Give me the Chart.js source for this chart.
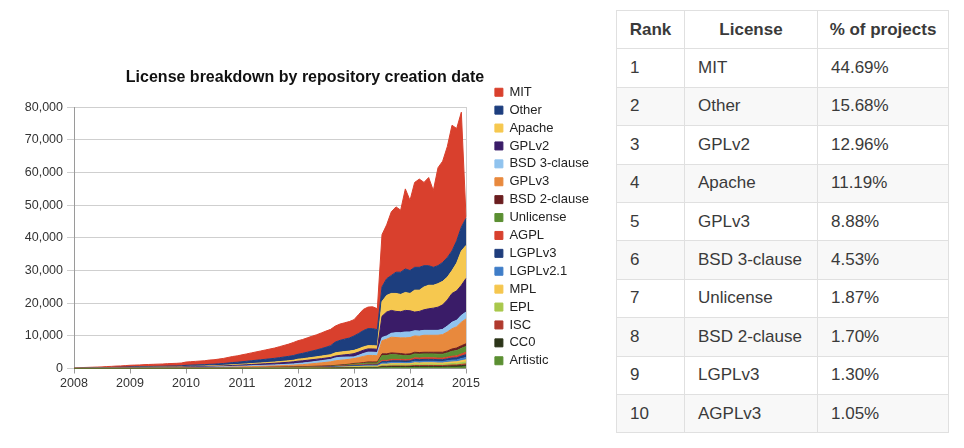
<!DOCTYPE html>
<html>
<head>
<meta charset="utf-8">
<script src="https://cdn.jsdelivr.net/npm/chart.js@4"></script>
<style>
  body { margin: 0; background: #fff; width: 964px; height: 448px; position: relative; overflow: hidden; }
  #chartBox { position: absolute; left: 15px; top: 55px; width: 580px; height: 343px; }
  #rankTable {
    position: absolute; left: 616px; top: 10px; width: 332px; table-layout: fixed;
    border-collapse: collapse; font-family: "Liberation Sans", Arial, sans-serif;
    font-size: 17px; color: #3a3a3a;
  }
  #rankTable th, #rankTable td { border: 1px solid #e0e0e0; padding: 0 13px; height: 37.4px; white-space: nowrap; }
  #rankTable th { font-weight: bold; text-align: center; padding: 0; }
  #rankTable td { text-align: left; }
  #rankTable tbody tr:nth-child(even) td { background: #f8f8f8; }
</style>
</head>
<body>
<div id="chartBox"><canvas id="licenseChart"></canvas></div>
<table id="rankTable">
  <colgroup><col style="width:68px"><col style="width:133px"><col style="width:131px"></colgroup>
  <thead><tr><th>Rank</th><th>License</th><th>% of projects</th></tr></thead>
  <tbody id="rankBody"></tbody>
</table>
<script>
// tick labels (one per January)
const years = ["2008", "2009", "2010", "2011", "2012", "2013", "2014", "2015"];
// monthly categories, 2008-01 .. 2015-01
const months = [];
years.forEach((y) => {
  for (let m = 1; m <= 12; m++) {
    if (y === "2015" && m > 1) break;
    months.push(`${y}-${String(m).padStart(2, "0")}`);
  }
});

// repos per month
const mit = [75,100,150,175,200,225,250,300,325,375,400,450,
  500,525,550,600,625,650,675,700,750,775,800,850,
  1000,1050,1100,1150,1200,1300,1350,1450,1550,1700,1850,1950,
  2100,2250,2400,2550,2700,2850,3000,3150,3350,3550,3750,4000,
  4150,4250,4400,4550,4650,4800,4950,5000,4900,5000,5000,5050,
  5000,5800,6500,6600,6700,6400,16000,16500,19500,20000,19000,24500,
  21500,26000,27000,25500,27000,23500,30000,31000,34000,38500,34400,35200,
  500];
const other = [30,40,55,65,70,80,90,110,120,135,145,160,
  180,190,200,215,225,235,245,250,270,280,290,305,
  360,380,395,415,430,470,485,520,560,610,665,700,
  755,810,865,920,970,1025,1080,1135,1205,1280,1350,1440,
  1500,1650,1800,1950,2100,2300,2500,2750,3300,3600,3800,4000,
  4400,4700,5000,5200,5200,5000,4500,5100,5500,6500,6800,7200,
  7000,7000,7000,6500,6000,5500,5500,5800,6000,6000,6800,7300,
  8300];
const apache = [10,12,18,21,24,27,30,36,39,45,48,54,
  60,63,66,72,75,78,81,84,90,93,96,102,
  120,126,132,138,144,156,162,174,186,204,222,234,
  252,270,288,306,324,342,360,378,402,426,450,480,
  600,630,660,700,730,770,800,850,1000,1000,1000,1000,
  1000,1000,1000,1000,1000,1000,4500,5100,5200,5500,5300,5500,
  5300,6700,6500,7000,7200,7000,7200,7200,7000,7000,8500,10500,
  10100];
const gplv2 = [12,16,24,28,32,36,40,48,52,60,64,72,
  80,84,88,96,100,104,108,112,120,124,128,136,
  160,168,176,184,192,208,216,232,248,272,296,312,
  336,360,384,408,432,456,480,504,536,568,600,640,
  700,700,700,680,660,640,620,600,550,600,700,800,
  1000,1000,1000,1000,1000,1000,6500,7300,7000,6500,6400,6600,
  6500,5700,6000,6300,6600,6800,7100,7500,8000,8800,9000,9200,
  10300];
const bsd3 = [8,10,15,18,20,23,25,30,33,38,40,45,
  50,53,55,60,63,65,68,70,75,78,80,85,
  100,105,110,115,120,130,135,145,155,170,185,195,
  210,225,240,255,270,285,300,315,335,355,375,400,
  450,480,520,560,600,650,700,750,900,900,850,700,
  500,700,900,1000,1000,1000,1000,1000,1200,1500,1600,1800,
  1700,1600,1600,1500,1500,1500,1500,1600,1800,2000,2000,2100,
  2100];
const gplv3 = [9,12,18,21,24,27,30,36,39,45,48,54,
  60,63,66,72,75,78,81,84,90,93,96,102,
  120,126,132,138,144,156,162,174,186,204,222,234,
  252,270,288,306,324,342,360,378,402,426,450,480,
  550,600,700,800,900,1000,1100,1200,1400,1450,1450,1500,
  1500,1700,1900,2000,2000,1900,4000,4500,4800,4800,4800,5000,
  5000,5000,5000,5200,5200,5200,5200,5400,5800,6200,6500,7200,
  7600];
const bsd2 = [2,3,5,5,6,7,8,9,10,11,12,14,
  15,16,17,18,19,20,20,21,23,23,24,26,
  30,32,33,35,36,39,41,44,47,51,56,59,
  63,68,72,77,81,86,90,95,101,107,113,120,
  130,130,135,135,140,140,145,145,150,150,160,180,
  200,220,250,300,300,300,500,500,500,500,500,500,
  500,500,500,500,500,500,600,600,600,700,800,800,
  800];
const unlicense = [0,0,0,0,0,0,0,0,0,0,0,0,
  0,0,0,0,0,0,0,0,0,0,0,0,
  2,3,5,5,6,8,10,12,14,16,18,20,
  22,25,28,30,33,36,40,43,47,50,55,60,
  70,75,80,90,100,110,120,130,150,160,180,190,
  300,320,350,400,400,400,1500,1500,1500,1400,1300,1200,
  1200,1200,1200,1200,1200,1200,1200,1200,1300,1500,1600,1700,
  1800];
const agpl = [1,1,2,2,3,3,3,4,4,5,5,6,
  6,7,7,8,8,8,9,9,10,10,10,11,
  13,14,14,15,15,17,17,19,20,22,24,25,
  27,29,31,33,35,37,39,41,43,46,48,52,
  53,56,59,63,68,72,78,84,98,113,128,143,
  158,165,180,195,195,195,375,375,420,420,420,405,
  420,495,480,495,495,495,480,480,525,570,585,675,
  750];
const lgplv3 = [1,2,2,3,3,3,4,4,5,5,6,7,
  7,8,8,9,9,10,10,10,11,11,12,12,
  15,15,16,17,18,19,20,21,23,25,27,29,
  31,33,35,37,39,42,44,46,49,52,55,58,
  60,63,66,71,77,82,88,95,111,128,145,162,
  179,187,204,221,221,221,425,425,476,476,476,459,
  476,561,544,561,561,561,544,544,595,646,663,765,
  850];
const lgplv21 = [1,2,2,3,3,3,4,4,5,5,5,6,
  7,7,7,8,8,9,9,9,10,10,11,11,
  13,14,14,15,16,17,18,19,20,22,24,26,
  28,30,31,33,35,37,39,41,43,45,48,51,
  52,55,58,62,66,70,76,82,95,110,125,140,
  155,160,175,190,190,190,360,360,400,400,400,390,
  400,470,460,470,470,470,460,460,500,540,560,640,
  720];
const mpl = [1,1,2,2,2,2,3,3,4,4,4,5,
  6,6,6,7,7,7,8,8,8,9,9,9,
  11,12,12,13,13,15,15,16,17,19,21,22,
  24,25,27,28,30,32,34,35,37,40,42,45,
  46,48,51,55,59,62,68,73,85,98,111,124,
  137,143,156,169,169,169,325,325,364,364,364,351,
  364,429,416,429,429,429,416,416,455,494,507,585,
  650];
const epl = [1,1,2,2,2,2,3,3,3,4,4,5,
  5,5,6,6,6,7,7,7,8,8,8,9,
  10,11,11,12,12,13,14,15,16,18,19,20,
  22,23,25,26,28,29,31,33,35,37,39,41,
  42,44,47,50,54,58,62,67,78,90,102,114,
  126,132,144,156,156,156,300,300,336,336,336,324,
  336,396,384,396,396,396,384,384,420,456,468,540,
  600];
const isc = [0,1,1,1,1,2,2,2,2,3,3,3,
  3,4,4,4,4,4,5,5,5,5,6,6,
  7,7,8,8,8,9,9,10,11,12,13,13,
  14,16,16,18,19,20,21,22,23,24,26,28,
  28,30,31,34,36,38,42,45,52,60,68,76,
  84,88,96,104,104,104,200,200,224,224,224,216,
  224,264,256,264,264,264,256,256,280,304,312,360,
  400];
const cc0 = [1,1,1,2,2,2,2,3,3,3,3,4,
  4,5,5,5,5,6,6,6,7,7,7,7,
  9,9,10,10,10,11,12,13,13,15,16,17,
  18,19,21,22,23,25,26,27,29,31,32,34,
  35,37,39,42,45,48,52,56,65,75,85,95,
  105,110,120,130,130,130,250,250,280,280,280,270,
  280,330,320,330,330,330,320,320,350,380,390,450,
  500];
const artistic = [1,1,1,1,2,2,2,3,3,3,4,4,
  4,4,5,5,5,5,6,6,6,7,7,7,
  8,9,10,10,11,11,12,12,13,14,16,17,
  18,19,20,21,23,24,25,27,28,30,33,35,
  36,38,40,43,46,49,54,58,67,77,87,97,
  106,112,122,132,132,132,250,250,280,280,280,270,
  280,330,320,330,330,330,320,320,350,380,390,450,
  500];

// bottom of the stack first
const seriesNames = ["Artistic", "CC0", "ISC", "EPL", "MPL", "LGPLv2.1", "LGPLv3", "AGPL",
  "Unlicense", "BSD 2-clause", "GPLv3", "BSD 3-clause", "GPLv2", "Apache", "Other", "MIT"];
const seriesData = [artistic, cc0, isc, epl, mpl, lgplv21, lgplv3, agpl,
  unlicense, bsd2, gplv3, bsd3, gplv2, apache, other, mit];
const seriesColors = ["#5b8f32", "#2c3519", "#b03a2e", "#a9c84c", "#f5c64e", "#3f7dc8", "#1f3d7c", "#d8412e",
  "#5b8f32", "#6a1d1f", "#e8893d", "#90c3ee", "#3a1c68", "#f6c84f", "#1d3e7e", "#d9402d"];

// table rows
const rankLicenses = ["MIT", "Other", "GPLv2", "Apache", "GPLv3", "BSD 3-clause", "Unlicense", "BSD 2-clause", "LGPLv3", "AGPLv3"];
const rankShares = ["44.69%", "15.68%", "12.96%", "11.19%", "8.88%", "4.53%", "1.87%", "1.70%", "1.30%", "1.05%"];

const rankBody = document.getElementById("rankBody");
rankLicenses.forEach((name, i) => {
  const tr = document.createElement("tr");
  tr.innerHTML = `<td>${i + 1}</td><td>${name}</td><td>${rankShares[i]}</td>`;
  rankBody.appendChild(tr);
});

const tickFont = { family: "'Liberation Sans', Arial, sans-serif", size: 12.5 };

const datasets = seriesNames.map((name, i) => ({
  label: name,
  data: seriesData[i],
  backgroundColor: seriesColors[i],
  borderColor: seriesColors[i],
  borderWidth: 1,
  pointRadius: 0,
  tension: 0,
  fill: i === 0 ? "origin" : "-1",
}));

const ctx = document.getElementById("licenseChart");
new Chart(ctx, {
  type: "line",
  data: { labels: months, datasets: datasets },
  options: {
    responsive: true,
    maintainAspectRatio: false,
    animation: false,
    layout: { padding: 0 },
    plugins: {
      title: {
        display: true,
        text: "License breakdown by repository creation date",
        color: "#111",
        font: { family: "'Liberation Sans', Arial, sans-serif", size: 16, weight: "bold" },
        padding: { top: 13, bottom: 20 },
      },
      legend: {
        position: "right",
        reverse: true,
        maxWidth: 105,
        labels: {
          boxWidth: 8,
          boxHeight: 8,
          padding: 4.9,
          color: "#222",
          font: { family: "'Liberation Sans', Arial, sans-serif", size: 13 },
        },
      },
      tooltip: { enabled: false },
    },
    scales: {
      x: {
        type: "category",
        afterBuildTicks: (scale) => {
          scale.ticks = scale.ticks.filter((t) => t.value % 12 === 0);
        },
        afterFit: (scale) => { scale.height = 29.5; },
        ticks: {
          autoSkip: false,
          maxRotation: 0,
          padding: 3,
          color: "#333",
          font: tickFont,
          callback: (v) => months[v].slice(0, 4),
        },
        grid: { drawOnChartArea: false, tickLength: 5, color: "#9a9a9a" },
        border: { color: "#9a9a9a" },
      },
      y: {
        stacked: true,
        min: 0,
        max: 80000,
        afterFit: (scale) => { scale.width = 59; },
        ticks: {
          stepSize: 10000,
          padding: 4,
          color: "#333",
          font: tickFont,
          callback: (v) => v.toLocaleString("en-US"),
        },
        grid: { color: "#cfcfcf", tickLength: 7 },
        border: { color: "#9a9a9a" },
      },
      y2: {
        position: "right",
        afterFit: (scale) => { scale.width = 24; },
        ticks: { display: false },
        grid: { display: false },
        border: { color: "#d0d0d0" },
      },
    },
  },
});
</script>
</body>
</html>
